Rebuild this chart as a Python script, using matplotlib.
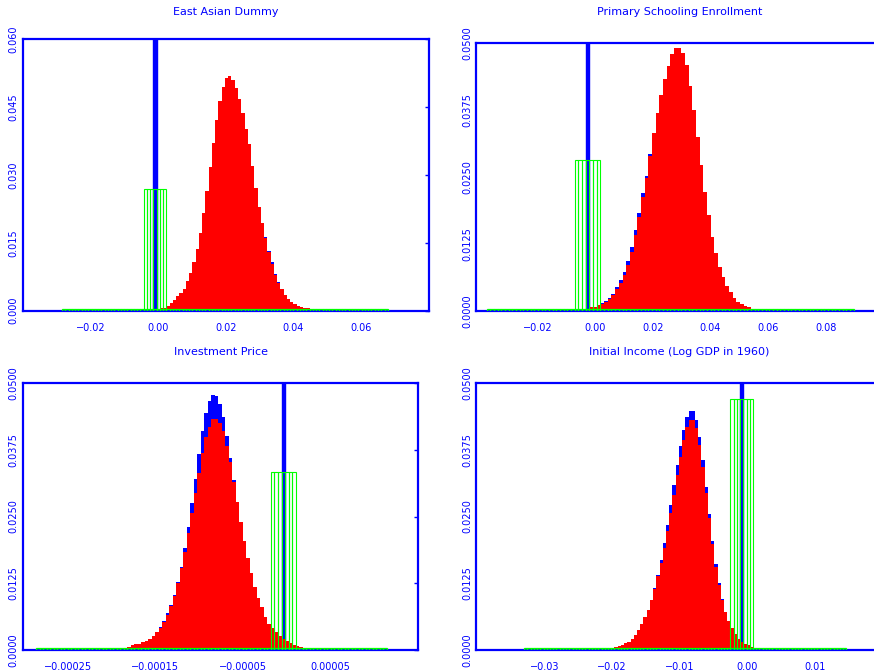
import numpy as np
import matplotlib.pyplot as plt

plt.rcParams['font.family'] = ['DejaVu Sans']

BLUE = '#0000ff'
RED = '#ff0000'
GREEN = '#00ff00'

NBINS = 100          # every histogram uses 100 bins over the prior range
SPIKE = 1.0          # point mass at zero, far above the plotted range
SLAB = 0.0004        # flat part of the green prior

# ---------------- East Asian Dummy ----------------
ea_title = 'East Asian Dummy'
ea_range = (-0.0284, 0.0679)
ea_first = 27
ea_red = [0.0001, 0.0002, 0.0003, 0.0005, 0.0007, 0.0011, 0.0018, 0.0024, 0.0032, 0.0039,
          0.0048, 0.0065, 0.0083, 0.0107, 0.0136, 0.0171, 0.0215, 0.0265, 0.0317, 0.0371,
          0.0421, 0.0464, 0.0495, 0.0515, 0.0518, 0.0511, 0.0493, 0.0467, 0.0436, 0.0401,
          0.0368, 0.0320, 0.0271, 0.0230, 0.0193, 0.0160, 0.0129, 0.0104, 0.0079, 0.0062,
          0.0048, 0.0035, 0.0026, 0.0019, 0.0014, 0.0011, 0.0008, 0.0006, 0.0005, 0.0004,
          0.0003, 0.0002, 0.0001]
ea_blue = [0.0001, 0.0002, 0.0003, 0.0005, 0.0007, 0.0011, 0.0018, 0.0024, 0.0032, 0.0039,
           0.0048, 0.0065, 0.0083, 0.0107, 0.0136, 0.0171, 0.0215, 0.0265, 0.0317, 0.0371,
           0.0421, 0.0464, 0.0495, 0.0515, 0.0518, 0.0511, 0.0493, 0.0467, 0.0436, 0.0401,
           0.0368, 0.0320, 0.0271, 0.0230, 0.0193, 0.0162, 0.0133, 0.0107, 0.0081, 0.0064,
           0.0049, 0.0035, 0.0026, 0.0019, 0.0014, 0.0011, 0.0008, 0.0006, 0.0005, 0.0004,
           0.0003, 0.0002, 0.0001]
ea_spike = 28
ea_box = 0.0269
ea_xlim = (-0.04, 0.0801)
ea_xticks = [-0.02, 0.0, 0.02, 0.04, 0.06]
ea_ylim = (0, 0.06)
ea_yticks = [0.0, 0.015, 0.030, 0.045, 0.060]

# ---------------- Primary Schooling Enrollment ----------------
ps_title = 'Primary Schooling Enrollment'
ps_range = (-0.0377, 0.0898)
ps_first = 24
ps_red = [0.0001, 0.0002, 0.0003, 0.0004, 0.0006, 0.0007, 0.0011,
          0.0012, 0.0017, 0.0022, 0.0029, 0.0040, 0.0051, 0.0067, 0.0085, 0.0110, 0.0141,
          0.0174, 0.0213, 0.0247, 0.0288,
          0.0331, 0.0368, 0.0402, 0.0433, 0.0456, 0.0478, 0.0490, 0.0491, 0.0480, 0.0458,
          0.0419, 0.0374, 0.0325, 0.0272, 0.0222, 0.0178, 0.0138, 0.0107, 0.0082, 0.0063,
          0.0046, 0.0034, 0.0024, 0.0017, 0.0012, 0.0009, 0.0006, 0.0004, 0.0003, 0.0002,
          0.0001]
ps_blue = [0.0001, 0.0002, 0.0003, 0.0004, 0.0006, 0.0007, 0.0011,
           0.0014, 0.0019, 0.0024, 0.0032, 0.0044, 0.0057, 0.0073, 0.0093, 0.0119, 0.0150,
           0.0183, 0.0219, 0.0252, 0.0292,
           0.0331, 0.0368, 0.0402, 0.0433, 0.0456, 0.0478, 0.0490, 0.0491, 0.0480, 0.0458,
           0.0419, 0.0374, 0.0325, 0.0272, 0.0222, 0.0178, 0.0138, 0.0107, 0.0082, 0.0063,
           0.0046, 0.0034, 0.0024, 0.0017, 0.0012, 0.0009, 0.0006, 0.0004, 0.0003, 0.0002,
           0.0001]
ps_spike = 27
ps_box = 0.0282
ps_xlim = (-0.0413, 0.0997)
ps_xticks = [-0.02, 0.0, 0.02, 0.04, 0.06, 0.08]
ps_ylim = (0, 0.05)
ps_yticks = [0.0, 0.0125, 0.0250, 0.0375, 0.0500]

# ---------------- Investment Price ----------------
ip_title = 'Investment Price'
ip_range = (-0.0002866, 0.0001148)
ip_first = 23
ip_red = [0.0003, 0.0004, 0.0005, 0.0007, 0.0009, 0.0011, 0.0012, 0.0015, 0.0018, 0.0022,
          0.0027, 0.0034,
          0.0041, 0.0052, 0.0066, 0.0082, 0.0102, 0.0126, 0.0153, 0.0184, 0.0219, 0.0256,
          0.0293, 0.0331, 0.0368, 0.0398, 0.0418, 0.0432, 0.0433, 0.0425, 0.0409, 0.0382,
          0.0351, 0.0315,
          0.0278, 0.0240, 0.0205, 0.0172, 0.0144, 0.0119, 0.0097, 0.0080, 0.0063, 0.0050,
          0.0041, 0.0034, 0.0027, 0.0021, 0.0017, 0.0013, 0.0010, 0.0008, 0.0006, 0.0005,
          0.0004, 0.0003]
ip_blue = [0.0003, 0.0004, 0.0005, 0.0007, 0.0009, 0.0011, 0.0012, 0.0015, 0.0018, 0.0022,
           0.0027, 0.0034,
           0.0043, 0.0054, 0.0069, 0.0084, 0.0103, 0.0128, 0.0156, 0.0191, 0.0231, 0.0276,
           0.0321, 0.0367, 0.0409, 0.0443, 0.0466, 0.0477, 0.0475, 0.0460, 0.0435, 0.0400,
           0.0359, 0.0318,
           0.0278, 0.0240, 0.0205, 0.0172, 0.0144, 0.0119, 0.0097, 0.0080, 0.0063, 0.0050,
           0.0041, 0.0034, 0.0027, 0.0021, 0.0017, 0.0013, 0.0010, 0.0008, 0.0006, 0.0005,
           0.0004, 0.0003]
ip_spike = 70
ip_box = 0.0334
ip_xlim = (-0.0003016, 0.000151)
ip_xticks = [-0.00025, -0.00015, -0.00005, 0.00005]
ip_ylim = (0, 0.05)
ip_yticks = [0.0, 0.0125, 0.0250, 0.0375, 0.0500]

# ---------------- Initial Income ----------------
ii_title = 'Initial Income (Log GDP in 1960)'
ii_range = (-0.0330, 0.0147)
ii_first = 26
ii_red = [0.0004, 0.0005, 0.0006, 0.0008, 0.0010, 0.0013, 0.0016, 0.0021, 0.0029, 0.0038,
          0.0049, 0.0062, 0.0075, 0.0094,
          0.0114, 0.0138, 0.0163, 0.0191, 0.0222, 0.0256, 0.0290, 0.0328, 0.0362, 0.0393,
          0.0418, 0.0430, 0.0430, 0.0415, 0.0384, 0.0342, 0.0293, 0.0247, 0.0199, 0.0156,
          0.0122, 0.0094,
          0.0072, 0.0055, 0.0041, 0.0031, 0.0022, 0.0016, 0.0012, 0.0009, 0.0007, 0.0005,
          0.0004, 0.0003, 0.0002]
ii_blue = [0.0004, 0.0005, 0.0006, 0.0008, 0.0010, 0.0013, 0.0016, 0.0021, 0.0029, 0.0038,
           0.0049, 0.0062, 0.0075, 0.0094,
           0.0116, 0.0141, 0.0169, 0.0200, 0.0234, 0.0272, 0.0309, 0.0346, 0.0382, 0.0412,
           0.0435, 0.0448, 0.0448, 0.0430, 0.0398, 0.0356, 0.0305, 0.0254, 0.0205, 0.0161,
           0.0125, 0.0095,
           0.0072, 0.0055, 0.0041, 0.0031, 0.0022, 0.0016, 0.0012, 0.0009, 0.0007, 0.0005,
           0.0004, 0.0003, 0.0002]
ii_spike = 67
ii_box = 0.0469
ii_xlim = (-0.0401, 0.0200)
ii_xticks = [-0.03, -0.02, -0.01, 0.0, 0.01]
ii_ylim = (0, 0.05)
ii_yticks = [0.0, 0.0125, 0.0250, 0.0375, 0.0500]


W, H = 874, 671
fig = plt.figure(figsize=(W / 100, H / 100), dpi=100)


def fmt(v, dec):
    return f'{v:.{dec}f}'.replace('-', '\u2212')


def panel(px, title_y, title, rng, first, red, blue, spike, box,
          xlim, xticks, xdec, ylim, yticks, ydec):
    # px = (left, top, width, height) of the frame in pixels
    l, t, w, h = px
    ax = fig.add_axes([l / W, (H - t - h) / H, w / W, h / H])

    edges = np.linspace(rng[0], rng[1], NBINS + 1)
    bw = edges[1] - edges[0]
    e = edges[first:first + len(red) + 1]

    bl = np.array(blue, dtype=float)
    bl[spike - first] = SPIKE
    ax.stairs(bl, e, fill=True, color=BLUE, zorder=1)
    # the spike bar is drawn a bit wider, as in the original plot
    ax.bar(edges[spike], SPIKE, width=bw, align='edge', color=BLUE,
           edgecolor=BLUE, linewidth=1.0, zorder=1)
    ax.stairs(red, e, fill=True, color=RED, zorder=1.5)

    # green prior: thin slab across the range, taller bins around the spike
    ax.bar(edges[:-1], SLAB, width=bw, align='edge', fill=False,
           edgecolor=GREEN, linewidth=0.9, zorder=3)
    ax.bar(edges[spike - 3:spike + 4], box, width=bw, align='edge', fill=False,
           edgecolor=GREEN, linewidth=0.8, zorder=3)

    ax.set_xlim(*xlim)
    ax.set_ylim(*ylim)
    ax.set_xticks(xticks, [fmt(v, xdec) for v in xticks])
    ax.set_yticks(yticks, [fmt(v, ydec) for v in yticks])

    for s in ax.spines.values():
        s.set_color(BLUE)
        s.set_linewidth(1.6)

    ax.tick_params(axis='x', bottom=False, labelsize=7, labelcolor=BLUE, pad=5)
    ax.tick_params(axis='y', left=False, right=True, direction='in', length=3,
                   width=1, color=BLUE, labelleft=True, labelright=False,
                   labelrotation=90, labelsize=7, labelcolor=BLUE, pad=3)
    for lab in ax.get_yticklabels():
        lab.set_verticalalignment('center')

    ax.text(0.5, 1 + (t - title_y) / h, title, transform=ax.transAxes,
            ha='center', va='center', fontsize=8, color=BLUE)
    return ax


panel((23, 39.3, 406, 271.4), 12, ea_title, ea_range, ea_first, ea_red, ea_blue,
      ea_spike, ea_box, ea_xlim, ea_xticks, 2, ea_ylim, ea_yticks, 3)
panel((476.3, 42.7, 406, 268), 12, ps_title, ps_range, ps_first, ps_red, ps_blue,
      ps_spike, ps_box, ps_xlim, ps_xticks, 2, ps_ylim, ps_yticks, 4)
panel((23, 382.7, 395.3, 267.6), 352, ip_title, ip_range, ip_first, ip_red, ip_blue,
      ip_spike, ip_box, ip_xlim, ip_xticks, 5, ip_ylim, ip_yticks, 4)
panel((476.3, 382.7, 406, 267.6), 352, ii_title, ii_range, ii_first, ii_red, ii_blue,
      ii_spike, ii_box, ii_xlim, ii_xticks, 2, ii_ylim, ii_yticks, 4)

fig.savefig('out.png', dpi=100)
